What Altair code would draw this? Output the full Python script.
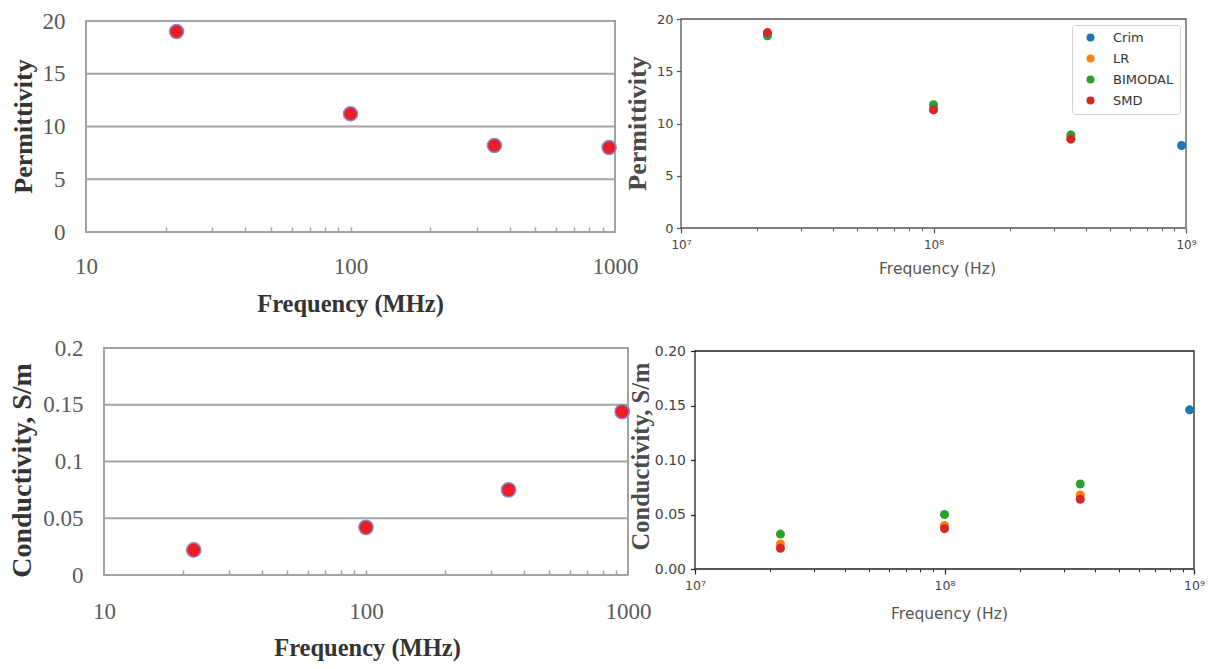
import altair as alt
import pandas as pd

# ---------------- data ----------------
# Left (measured) panels, frequency in MHz
freq_mhz = [22, 100, 350, 950]
permittivity_meas = [19.0, 11.2, 8.2, 8.0]
conductivity_meas = [0.022, 0.042, 0.075, 0.144]

# Right (model) panels, frequency in Hz
models = ["Crim", "LR", "BIMODAL", "SMD"]
model_colors = ["#1f77b4", "#ff7f0e", "#2ca02c", "#d62728"]
freq_hz = [2.2e7, 1.0e8, 3.5e8]
crim_freq_hz = [9.6e8]
perm_crim = [7.9]
perm_lr = [18.6, 11.4, 8.6]
perm_bimodal = [18.4, 11.8, 8.9]
perm_smd = [18.7, 11.3, 8.5]
cond_crim = [0.146]
cond_lr = [0.023, 0.040, 0.068]
cond_bimodal = [0.032, 0.050, 0.078]
cond_smd = [0.019, 0.037, 0.064]

# Axis values
mhz_domain = [10, 1000]
mhz_labels = [10, 100, 1000]
mhz_minor = [20, 30, 40, 50, 60, 70, 80, 90, 100, 200, 300, 400, 500, 600, 700, 800, 900]
hz_domain = [1e7, 1e9]
hz_major = [1e7, 1e8, 1e9]
hz_minor = [2e7, 3e7, 4e7, 5e7, 6e7, 7e7, 8e7, 9e7, 2e8, 3e8, 4e8, 5e8, 6e8, 7e8, 8e8, 9e8]
perm_domain = [0, 20]
perm_ticks = [0, 5, 10, 15, 20]
perm_grid = [5, 10, 15]
cond_domain = [0, 0.2]
cond_ticks = [0, 0.05, 0.1, 0.15, 0.2]
cond_grid = [0.05, 0.1, 0.15]

# ---------------- tables ----------------
left_df = pd.DataFrame({"freq": freq_mhz, "perm": permittivity_meas, "cond": conductivity_meas})

rows = []
for m, fr, pv, cv in [("Crim", crim_freq_hz, perm_crim, cond_crim),
                      ("LR", freq_hz, perm_lr, cond_lr),
                      ("BIMODAL", freq_hz, perm_bimodal, cond_bimodal),
                      ("SMD", freq_hz, perm_smd, cond_smd)]:
    for f, pval, cval in zip(fr, pv, cv):
        rows.append({"model": m, "freq": f, "perm": pval, "cond": cval})
right_df = pd.DataFrame(rows)


def frame_df(xd, yd):
    return pd.DataFrame({"x0": [xd[0]], "x1": [xd[1]], "y0": [yd[0]], "y1": [yd[1]]})


def grid_df(xd, gvals):
    return pd.DataFrame({"y": gvals, "x0": [xd[0]] * len(gvals), "x1": [xd[1]] * len(gvals)})


# ---------------- layout ----------------
W, H = 1211, 669
SERIF = "Liberation Serif"
SANS = "DejaVu Sans"
GRAYLINE = "#a3a3a3"

TL = dict(xtype="log", xdom=mhz_domain, xr=[86, 615], ydom=perm_domain, yr=[232, 21])
TR = dict(xtype="log", xdom=hz_domain, xr=[681, 1186], ydom=perm_domain, yr=[228, 19])
BL = dict(xtype="log", xdom=mhz_domain, xr=[104, 628], ydom=cond_domain, yr=[575, 348])
BR = dict(xtype="log", xdom=hz_domain, xr=[695, 1194], ydom=cond_domain, yr=[569, 351])


def X(field, p, axis):
    return alt.X(f"{field}:Q", scale=alt.Scale(type=p["xtype"], domain=p["xdom"], range=p["xr"], nice=False),
                 axis=axis)


def Y(field, p, axis):
    return alt.Y(f"{field}:Q", scale=alt.Scale(type="linear", domain=p["ydom"], range=p["yr"], nice=False),
                 axis=axis)


def serif_x_axis(p, title, tx, ty, pad):
    return alt.Axis(orient="bottom", offset=p["yr"][0] - H, values=mhz_labels, format="~g",
                    labelFont=SERIF, labelFontSize=23, labelColor="#5a5a5a", labelPadding=pad,
                    labelFlush=False, labelOverlap=False, ticks=False, tickSize=0, domain=False, grid=False,
                    title=title, titleFont=SERIF, titleFontSize=24.5, titleFontWeight="bold", titleColor="#333333",
                    titleX=tx, titleY=ty, titleAlign="center", titleBaseline="middle")


def serif_y_axis(p, values, fmt, title, tx, ty, fs):
    return alt.Axis(orient="left", offset=-p["xr"][0], values=values, format=fmt,
                    labelFont=SERIF, labelFontSize=23, labelColor="#5a5a5a", labelPadding=21,
                    labelOverlap=False, ticks=False, tickSize=0, domain=False, grid=False,
                    title=title, titleFont=SERIF, titleFontSize=fs, titleFontWeight="bold", titleColor="#333333",
                    titleX=tx, titleY=ty, titleAngle=270, titleAlign="center", titleBaseline="middle")


def serif_minor_axis(p):
    return alt.Axis(orient="top", offset=-p["yr"][0], values=mhz_minor, labels=False, domain=False, grid=False,
                    ticks=True, tickSize=5, tickColor=GRAYLINE, tickWidth=1.5, title=None)


def mpl_x_axis(p, tx, ty, pad, fs, color):
    return alt.Axis(orient="bottom", offset=p["yr"][0] - H, values=hz_major,
                    labelExpr="datum.value < 5e7 ? '10\u2077' : (datum.value < 5e8 ? '10\u2078' : '10\u2079')",
                    labelFont=SANS, labelFontSize=fs, labelColor="#444444", labelPadding=pad,
                    labelFlush=False, labelOverlap=False, ticks=True, tickSize=5, tickWidth=1.2,
                    tickColor=color, domain=False, grid=False,
                    title="Frequency (Hz)", titleFont=SANS, titleFontSize=15.5, titleFontWeight="normal",
                    titleColor="#555555", titleX=tx, titleY=ty, titleAlign="center", titleBaseline="middle")


def mpl_minor_axis(p, color):
    return alt.Axis(orient="bottom", offset=p["yr"][0] - H, values=hz_minor, labels=False, domain=False,
                    grid=False, ticks=True, tickSize=2.8, tickWidth=1, tickColor=color, title=None)


def mpl_y_axis(p, values, fmt, title, tx, ty, fs, lfs, pad, color):
    return alt.Axis(orient="left", offset=-p["xr"][0], values=values, format=fmt,
                    labelFont=SANS, labelFontSize=lfs, labelColor="#444444", labelPadding=pad,
                    labelOverlap=False, ticks=True, tickSize=4.5, tickWidth=1.2, tickColor=color,
                    domain=False, grid=False,
                    title=title, titleFont=SERIF, titleFontSize=fs, titleFontWeight="bold", titleColor="#4a4a4a",
                    titleX=tx, titleY=ty, titleAngle=270, titleAlign="center", titleBaseline="middle")


legend = alt.Legend(orient="none", legendX=1072, legendY=25, title=None, direction="vertical",
                    fillColor="white", strokeColor="#d0d0d0", cornerRadius=3, padding=6,
                    symbolType="circle", symbolSize=64, symbolStrokeWidth=0, symbolOffset=6,
                    labelFont=SANS, labelFontSize=13, labelColor="#333333", labelOffset=16, rowPadding=7)
color_enc = alt.Color("model:N", scale=alt.Scale(domain=models, range=model_colors), legend=legend)

layers = []

# ---- top-left: measured permittivity ----
p = TL
layers.append(alt.Chart(grid_df(mhz_domain, perm_grid)).mark_rule(stroke=GRAYLINE, strokeWidth=2).encode(
    x=X("x0", p, serif_minor_axis(p)), x2=alt.X2("x1"), y=Y("y", p, None)))
layers.append(alt.Chart(frame_df(mhz_domain, perm_domain)).mark_rect(
    fillOpacity=0, stroke=GRAYLINE, strokeWidth=2).encode(
    x=X("x0", p, serif_x_axis(p, "Frequency (MHz)", 350, 72, 23)), x2=alt.X2("x1"),
    y=Y("y0", p, serif_y_axis(p, perm_ticks, "d", "Permittivity", -63, 126, 26)), y2=alt.Y2("y1")))
layers.append(alt.Chart(left_df).mark_circle(size=196, opacity=1, fill="#ee1c25", stroke="#7f8fcc",
                                             strokeWidth=1.5).encode(
    x=X("freq", p, None), y=Y("perm", p, None)))

# ---- bottom-left: measured conductivity ----
p = BL
layers.append(alt.Chart(grid_df(mhz_domain, cond_grid)).mark_rule(stroke=GRAYLINE, strokeWidth=2).encode(
    x=X("x0", p, serif_minor_axis(p)), x2=alt.X2("x1"), y=Y("y", p, None)))
layers.append(alt.Chart(frame_df(mhz_domain, cond_domain)).mark_rect(
    fillOpacity=0, stroke=GRAYLINE, strokeWidth=2).encode(
    x=X("x0", p, serif_x_axis(p, "Frequency (MHz)", 367, 73, 25)), x2=alt.X2("x1"),
    y=Y("y0", p, serif_y_axis(p, cond_ticks, "~g", "Conductivity, S/m", -82, 470, 28)), y2=alt.Y2("y1")))
layers.append(alt.Chart(left_df).mark_circle(size=205, opacity=1, fill="#ee1c25", stroke="#7f8fcc",
                                             strokeWidth=1.5).encode(
    x=X("freq", p, None), y=Y("cond", p, None)))

# ---- top-right: model permittivity ----
p = TR
layers.append(alt.Chart(frame_df(hz_domain, perm_domain)).mark_rect(
    fillOpacity=0, stroke="#555555", strokeWidth=1.3).encode(
    x=X("x0", p, mpl_x_axis(p, 937, 40, 6, 12, "#555555")), x2=alt.X2("x1"),
    y=Y("y0", p, mpl_y_axis(p, perm_ticks, "d", "Permittivity", -44, 123, 26, 13, 3.5, "#555555")),
    y2=alt.Y2("y1")))
layers.append(alt.Chart(right_df).mark_circle(size=81, opacity=1).encode(
    x=X("freq", p, mpl_minor_axis(p, "#555555")), y=Y("perm", p, None), color=color_enc))

# ---- bottom-right: model conductivity ----
p = BR
layers.append(alt.Chart(frame_df(hz_domain, cond_domain)).mark_rect(
    fillOpacity=0, stroke="#222222", strokeWidth=1.3).encode(
    x=X("x0", p, mpl_x_axis(p, 949, 44, 5, 12.5, "#222222")), x2=alt.X2("x1"),
    y=Y("y0", p, mpl_y_axis(p, cond_ticks, ".2f", "Conductivity, S/m", -54, 456, 24.5, 14, 5, "#222222")),
    y2=alt.Y2("y1")))
layers.append(alt.Chart(right_df).mark_circle(size=81, opacity=1).encode(
    x=X("freq", p, mpl_minor_axis(p, "#222222")), y=Y("cond", p, None), color=color_enc))

chart = alt.layer(*layers).resolve_scale(x="independent", y="independent").resolve_axis(
    x="independent", y="independent").properties(
    width=W, height=H, padding=0, autosize=alt.AutoSizeParams(type="none"), background="white"
).configure_view(strokeWidth=0)

chart.save("out.html", embed_options={"renderer": "svg", "actions": False})
